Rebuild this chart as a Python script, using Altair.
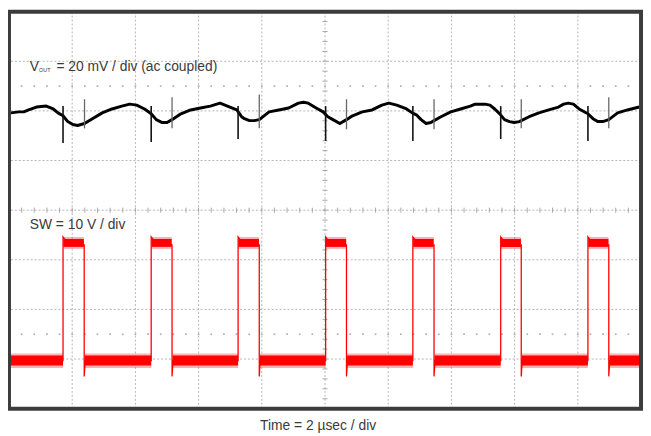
import altair as alt
import pandas as pd

# Channel 1: V_OUT (mV, ac coupled), time in microseconds
vout_t = [0.06, 0.31, 0.47, 0.62, 0.87, 1.18, 1.40, 1.55, 1.71, 1.86, 2.02, 2.17, 2.39, 2.64, 2.95,
          3.26, 3.57, 3.82, 4.04, 4.29, 4.50, 4.66, 4.85, 5.00, 5.16, 5.44, 5.75, 6.06, 6.37, 6.68,
          6.99, 7.21, 7.36, 7.45, 7.61, 7.76, 7.92, 8.23, 8.54, 8.85, 9.16, 9.32, 9.47, 9.72, 9.94,
          10.09, 10.25, 10.47, 10.68, 10.87, 11.18, 11.49, 11.80, 12.02, 12.27, 12.58, 12.76, 12.89,
          13.04, 13.20, 13.35, 13.45, 13.67, 13.98, 14.29, 14.60, 14.75, 15.06, 15.22, 15.37, 15.53,
          15.68, 15.84, 15.99, 16.15, 16.21, 16.46, 16.77, 17.08, 17.39, 17.55, 17.70, 17.86, 18.04,
          18.32, 18.48, 18.63, 18.79, 18.98, 19.26, 19.57, 19.94]
vout_mv = [-0.78, -0.39, -0.39, 0.39, 1.56, 1.95, 0.78, -0.78, -1.95, -4.30, -5.47, -5.86, -5.08, -3.13, -0.78,
           0.78, 1.95, 2.73, 2.34, 0.78, -1.17, -3.52, -4.69, -4.69, -3.52, -1.17, 0.39, 1.17, 1.95, 3.13,
           1.56, 0.39, -2.34, -3.13, -3.91, -3.91, -3.52, -0.39, 0.39, 1.17, 3.13, 3.52, 3.13, 1.17, -0.39,
           -2.34, -3.52, -5.08, -3.52, -1.95, -0.39, 0.39, 2.34, 3.13, 2.34, 0.78, -0.78, -1.56,
           -3.52, -5.08, -4.69, -3.91, -2.34, -0.39, 0.78, 1.95, 2.73, 2.73, 2.34, 0.78, -1.17,
           -3.52, -4.30, -4.69, -4.30, -3.91, -2.34, -0.78, 0.39, 1.56, 2.73, 3.13, 2.73, 0.78,
           -1.17, -3.13, -4.30, -4.30, -3.52, -0.78, 0.39, 1.56]

# switching spikes on V_OUT
down_t = [1.71, 4.50, 7.25, 10.02, 12.78, 15.56, 18.32]
down_top = [1.95, 1.95, 1.95, 1.95, 1.95, 1.95, 1.95]
down_bot = [-12.89, -12.50, -11.33, -12.11, -12.11, -11.33, -12.11]
up_t = [2.39, 5.16, 7.92, 10.68, 13.45, 16.21, 18.98]
up_top = [4.69, 5.47, 6.64, 4.69, 4.69, 4.69, 5.47]
up_bot = [-7.03, -7.03, -7.03, -7.42, -7.42, -7.03, -7.03]

# Channel 2: SW node (V)
sw_t = [0.00, 1.71, 1.71, 1.78, 2.36, 2.38, 2.38, 2.41,
        4.50, 4.50, 4.57, 5.14, 5.16, 5.16, 5.19,
        7.25, 7.25, 7.32, 7.90, 7.92, 7.92, 7.95,
        10.02, 10.02, 10.09, 10.66, 10.68, 10.68, 10.71,
        12.78, 12.78, 12.85, 13.43, 13.45, 13.45, 13.48,
        15.56, 15.56, 15.63, 16.19, 16.21, 16.21, 16.24,
        18.32, 18.32, 18.39, 18.96, 18.98, 18.98, 19.01, 20.00]
sw_v = [-0.3, -0.3, 24.6, 24.0, 23.0, 23.0, -3.5, -0.3,
        -0.3, 24.6, 24.0, 23.0, 23.0, -3.5, -0.3,
        -0.3, 24.6, 24.0, 23.0, 23.0, -3.5, -0.3,
        -0.3, 24.6, 24.0, 23.0, 23.0, -3.5, -0.3,
        -0.3, 24.6, 24.0, 23.0, 23.0, -3.5, -0.3,
        -0.3, 24.6, 24.0, 23.0, 23.0, -3.5, -0.3,
        -0.3, 24.6, 24.0, 23.0, 23.0, -3.5, -0.3, -0.3]

# noise envelope of the SW trace (low and high plateaus): dense core and fuzzy edge
low_start = [0.00, 2.40, 5.18, 7.94, 10.70, 13.47, 16.23, 19.00]
low_end = [1.71, 4.50, 7.25, 10.02, 12.78, 15.56, 18.32, 20.00]
low_min = [-1.3] * 8
low_max = [0.7] * 8
low_edge_min = [-1.8] * 8
low_edge_max = [1.1] * 8
high_start = [1.72, 4.51, 7.26, 10.03, 12.79, 15.57, 18.33]
high_end = [2.37, 5.15, 7.91, 10.67, 13.44, 16.20, 18.97]
high_min = [22.6] * 7
high_max = [24.2] * 7
high_edge_min = [22.2] * 7
high_edge_max = [24.6] * 7

# screen graticule
grid_t = [2, 4, 6, 8, 10, 12, 14, 16, 18]
grid_div = [1, 2, 3, 4, 5, 6, 7]
minor_t = [round(0.4 * k, 2) for k in range(1, 50)]
minor_div = [round(0.2 * k, 2) for k in range(1, 40)]
dot_rows = [1.5, 6.5]

labels = ["V", "OUT", "= 20 mV / div (ac coupled)", "SW = 10 V / div", "Time = 2 µsec / div"]

# ---------------- chart ----------------
W, H = 640, 402
FONT = "Liberation Sans"
TXT = "#3a3a3a"
xs = alt.Scale(domain=[0, 20], nice=False, zero=False)
ys = alt.Scale(domain=[0, 8], nice=False, zero=False)

grid_v = alt.Chart(pd.DataFrame({"t": grid_t})).mark_rule(
    color="#b5b5b5", strokeWidth=1, strokeDash=[2, 2]).encode(x=alt.X("t:Q", scale=xs, axis=None))
grid_h = alt.Chart(pd.DataFrame({"d": grid_div})).mark_rule(
    color="#b5b5b5", strokeWidth=1, strokeDash=[2, 2]).encode(y=alt.Y("d:Q", scale=ys, axis=None))

ticks_h = alt.Chart(pd.DataFrame({"t": minor_t})).transform_calculate(
    a="3.95", b="4.05").mark_rule(color="#a8a8a8", strokeWidth=1).encode(
    x=alt.X("t:Q", scale=xs, axis=None),
    y=alt.Y("a:Q", scale=ys, axis=None), y2="b:Q")
ticks_v = alt.Chart(pd.DataFrame({"d": minor_div})).transform_calculate(
    a="9.92", b="10.08").mark_rule(color="#a8a8a8", strokeWidth=1).encode(
    y=alt.Y("d:Q", scale=ys, axis=None),
    x=alt.X("a:Q", scale=xs, axis=None), x2="b:Q")

dots_df = pd.DataFrame([(t, r) for r in dot_rows for t in minor_t], columns=["t", "d"])
dots = alt.Chart(dots_df).mark_square(color="#b0b0b0", size=3, opacity=1).encode(
    x=alt.X("t:Q", scale=xs, axis=None), y=alt.Y("d:Q", scale=ys, axis=None))

# SW channel
core_df = pd.concat([
    pd.DataFrame({"t0": low_start, "t1": low_end, "v0": low_min, "v1": low_max}),
    pd.DataFrame({"t0": high_start, "t1": high_end, "v0": high_min, "v1": high_max}),
], ignore_index=True)
edge_df = pd.concat([
    pd.DataFrame({"t0": low_start, "t1": low_end, "v0": low_edge_min, "v1": low_edge_max}),
    pd.DataFrame({"t0": high_start, "t1": high_end, "v0": high_edge_min, "v1": high_edge_max}),
], ignore_index=True)


def band(df, opacity):
    return alt.Chart(df).transform_calculate(
        y0="1 + datum.v0 / 10", y1="1 + datum.v1 / 10").mark_rect(
        color="#ff0000", opacity=opacity).encode(
        x=alt.X("t0:Q", scale=xs, axis=None), x2="t1:Q",
        y=alt.Y("y0:Q", scale=ys, axis=None), y2="y1:Q")


sw_edge = band(edge_df, 0.3)
sw_core = band(core_df, 1.0)

sw_df = pd.DataFrame({"t": sw_t, "v": sw_v, "i": range(len(sw_t))})
sw_line = alt.Chart(sw_df).transform_calculate(y="1 + datum.v / 10").mark_line(
    color="#ff0000", strokeWidth=1.3).encode(
    x=alt.X("t:Q", scale=xs, axis=None), y=alt.Y("y:Q", scale=ys, axis=None), order="i:Q")

# V_OUT channel
vo_df = pd.DataFrame({"t": vout_t, "mv": vout_mv, "i": range(len(vout_t))})
vo_line = alt.Chart(vo_df).transform_calculate(y="6 + datum.mv / 20").mark_line(
    color="#000000", strokeWidth=3, strokeJoin="round").encode(
    x=alt.X("t:Q", scale=xs, axis=None), y=alt.Y("y:Q", scale=ys, axis=None), order="i:Q")

dn_df = pd.DataFrame({"t": down_t, "a": down_top, "b": down_bot})
dn = alt.Chart(dn_df).transform_calculate(
    y0="6 + datum.a / 20", y1="6 + datum.b / 20").mark_rule(color="#111111", strokeWidth=1.6).encode(
    x=alt.X("t:Q", scale=xs, axis=None), y=alt.Y("y0:Q", scale=ys, axis=None), y2="y1:Q")
up_df = pd.DataFrame({"t": up_t, "a": up_top, "b": up_bot})
up = alt.Chart(up_df).transform_calculate(
    y0="6 + datum.a / 20", y1="6 + datum.b / 20").mark_rule(color="#666666", strokeWidth=1.3).encode(
    x=alt.X("t:Q", scale=xs, axis=None), y=alt.Y("y0:Q", scale=ys, axis=None), y2="y1:Q")

one = pd.DataFrame({"k": [0]})


def label(text, px, py, size=14, align="left"):
    return alt.Chart(one).mark_text(
        text=text, align=align, baseline="alphabetic", font=FONT, fontSize=size, color=TXT
    ).encode(x=alt.value(px), y=alt.value(py))


t_v = label(labels[0], 21, 60)
t_out = label(labels[1], 30.5, 61, size=5.5)
t_rest = label(labels[2], 48, 60)
t_sw = label(labels[3], 21, 220)
t_time = label(labels[4], 313, 424, align="center")

frame = alt.Chart(one).mark_rect(fillOpacity=0, stroke="#3c3c3c", strokeWidth=4).encode(
    x=alt.value(0), x2=alt.value(W), y=alt.value(0), y2=alt.value(H))

chart = alt.layer(
    grid_v, grid_h, ticks_h, ticks_v, dots,
    sw_edge, sw_core, sw_line, vo_line, dn, up,
    t_v, t_out, t_rest, t_sw, t_time, frame
).properties(
    width=W, height=H,
    padding={"left": 1, "top": 1, "right": 2, "bottom": 28},
    autosize=alt.AutoSizeParams(type="none"),
    background="white",
).configure_view(strokeWidth=0)

chart.save("out.html", embed_options={"renderer": "svg", "actions": False})
